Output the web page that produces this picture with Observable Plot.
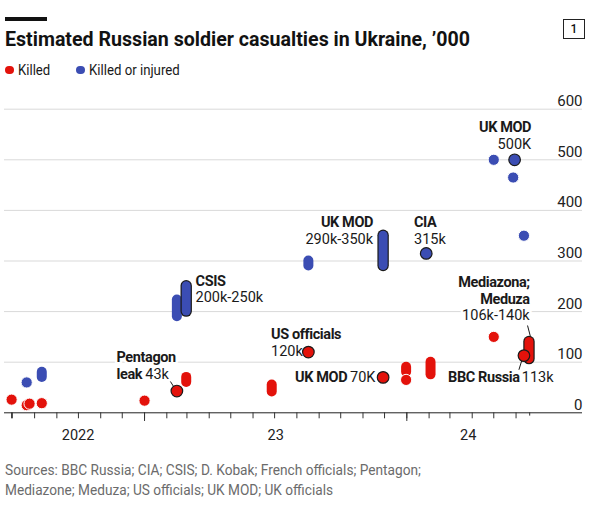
<!DOCTYPE html>
<html>
<head>
<meta charset="utf-8">
<script src="https://cdn.jsdelivr.net/npm/d3@7"></script>
<script src="https://cdn.jsdelivr.net/npm/@observablehq/plot@0.6"></script>
<style>
  html, body { margin: 0; padding: 0; background: #fff; }
  body { width: 608px; height: 507px; position: relative; overflow: hidden; font-family: Roboto, "Noto Sans", sans-serif; color: #121212; }
  .abs { position: absolute; white-space: nowrap; }
  .fit { display: inline-block; transform-origin: 0 0; }
  #bar { left: 4.7px; top: 16.7px; width: 42px; height: 4px; background: #121212; }
  #title { left: 4.7px; top: 28.9px; font-size: 20px; line-height: 20px; font-weight: 700; }
  .leg { top: 63.1px; font-size: 15px; line-height: 15px; color: #1a1a1a; }
  .ldot { position: absolute; width: 8.6px; height: 8.6px; border-radius: 50%; top: 65.7px; }
  .foot { left: 4.7px; font-size: 15px; line-height: 15px; color: #6b6b6b; }
  #box { left: 563px; top: 19px; width: 21.6px; height: 20.3px; box-sizing: border-box; border: 1px solid #222; font-size: 12px; line-height: 18.3px; text-align: center; font-weight: 500; }
  #chart { position: absolute; left: 0; top: 90px; }
  #chart g[font-weight="700"] text { letter-spacing: -0.4px; }
</style>
</head>
<body>
<div id="bar" class="abs"></div>
<div id="title" class="abs fit">Estimated Russian soldier casualties in Ukraine, ’000</div>
<div id="box" class="abs">1</div>
<div class="ldot" style="left:5px;background:#e3120b"></div>
<div id="legK" class="abs leg fit" style="left:17.7px">Killed</div>
<div class="ldot" style="left:76.4px;background:#3b4db3"></div>
<div id="legKI" class="abs leg fit" style="left:89.3px">Killed or injured</div>
<div id="chart"></div>
<div id="foot1" class="abs foot fit" style="top:463.4px">Sources: BBC Russia; CIA; CSIS; D. Kobak; French officials; Pentagon;</div>
<div id="foot2" class="abs foot fit" style="top:483.4px">Mediazone; Meduza; US officials; UK MOD; UK officials</div>
<script>
// ---------------- data ----------------
const seriesNames = ["Killed", "Killed or injured"];

// Killed: single estimates
const killedPointDates  = ["2022-06-30","2022-07-21","2022-07-25","2022-08-11","2023-01-01","2023-02-15","2023-08-17","2023-11-29","2023-12-31","2024-05-01","2024-06-12"];
const killedPointValues = [26, 15, 18, 19, 24, 43, 120, 70, 65, 150, 113];
const killedPointLabelled = [0, 0, 0, 0, 0, 1, 1, 1, 0, 0, 1];
// Killed: ranges
const killedRangeDates = ["2023-02-28","2023-06-27","2023-12-31","2024-02-03","2024-06-19"];
const killedRangeLow   = [60, 41, 80, 75, 106];
const killedRangeHigh  = [70, 55, 90, 100, 140];
const killedRangeLabelled = [0, 0, 0, 0, 1];

// Killed or injured: single estimates
const injuredPointDates  = ["2022-07-21","2024-01-28","2024-05-01","2024-05-28","2024-05-30","2024-06-12"];
const injuredPointValues = [60, 315, 500, 465, 500, 350];
const injuredPointLabelled = [0, 1, 0, 0, 1, 0];
// Killed or injured: ranges
const injuredRangeDates = ["2022-08-11","2023-02-15","2023-02-28","2023-08-17","2023-11-29"];
const injuredRangeLow   = [70, 190, 200, 290, 290];
const injuredRangeHigh  = [80, 223, 250, 300, 350];
const injuredRangeLabelled = [0, 0, 1, 0, 1];

// Axis
const yTicks = [0, 100, 200, 300, 400, 500, 600];
const xDomain = ["2022-06-30", "2024-06-20"];
const yearLabels = ["2022", "23", "24"];
const yearBounds = ["2022-06-30", "2023-01-01", "2024-01-01", "2024-06-20"];

// Annotations (anchor date, anchor value, text, bold, anchor side)
const annDates  = ["2022-11-23","2022-11-23","2023-01-02","2023-03-13","2023-03-13","2023-06-26","2023-06-26","2023-10-10","2023-10-14","2023-11-15","2023-11-15","2024-01-11","2024-01-11","2024-06-22","2024-06-22","2024-06-20","2024-06-20","2024-06-20","2024-06-06","2024-06-09"];
const annValues = [108.7, 75.7, 75.7, 260.1, 227.3, 154.7, 120.6, 69.2, 69.2, 375.5, 342.5, 375.5, 342.5, 564.4, 530.2, 258.1, 224.5, 192.3, 69.2, 69.2];
const annTexts  = ["Pentagon","leak","43k","CSIS","200k-250k","US officials","120k","UK MOD","70K","UK MOD","290k-350k","CIA","315k","UK MOD","500K","Mediazona;","Meduza","106k-140k","BBC Russia","113k"];
const annBold   = [1,1,0,1,0,1,0,1,0,1,0,1,0,1,0,1,1,0,1,0];
const annEnd    = [0,0,0,0,0,0,0,1,0,1,1,0,0,1,1,1,1,1,1,0];

// Leader lines
const leaderFromDates = ["2023-02-06","2024-06-17","2024-06-09"];
const leaderFromValues = [61.9, 172.5, 103.4];
const leaderToDates = ["2023-02-11","2024-06-21","2024-06-05"];
const leaderToValues = [50.6, 150.8, 85];

// ---------------- build ----------------
const RED = "#e3120b", BLUE = "#3b4db3", INK = "#1a1a1a";
const D = s => new Date(s + "T00:00:00Z");
const pts = (dates, vals, lab) => dates.map((d, i) => ({date: D(d), value: vals[i], labelled: !!lab[i]}));
const rngs = (dates, lo, hi, lab) => dates.map((d, i) => ({date: D(d), low: lo[i], high: hi[i], labelled: !!lab[i]}));

const kP = pts(killedPointDates, killedPointValues, killedPointLabelled);
const kR = rngs(killedRangeDates, killedRangeLow, killedRangeHigh, killedRangeLabelled);
const iP = pts(injuredPointDates, injuredPointValues, injuredPointLabelled);
const iR = rngs(injuredRangeDates, injuredRangeLow, injuredRangeHigh, injuredRangeLabelled);

const ann = annTexts.map((t, i) => ({date: D(annDates[i]), value: annValues[i], text: t, bold: !!annBold[i], end: !!annEnd[i]}));
const leaders = leaderFromDates.map((d, i) => ({x1: D(d), y1: leaderFromValues[i], x2: D(leaderToDates[i]), y2: leaderToValues[i]}));

const dom = xDomain.map(D);
const yb = yearBounds.map(D);
const yearMid = yearLabels.map((l, i) => ({label: l, date: new Date((+yb[i] + +yb[i + 1]) / 2)}));
const monthTicks = d3.utcMonth.range(D("2022-07-01"), D("2024-06-02"));
const yearTicks = [D("2023-01-01"), D("2024-01-01")];

function textMarks(filterFn, anchor, weight) {
  return Plot.text(ann.filter(filterFn), {
    x: "date", y: "value", text: "text", textAnchor: anchor, fontWeight: weight,
    fill: INK, stroke: "white", strokeWidth: 5, paintOrder: "stroke", strokeLinejoin: "round",
    lineAnchor: "middle", fontSize: 14.5
  });
}

const ranges = (data, color, lab) => lab
  ? [Plot.ruleX(data, {x: "date", y1: "low", y2: "high", stroke: INK, strokeWidth: 11.4, strokeLinecap: "round"}),
     Plot.ruleX(data, {x: "date", y1: "low", y2: "high", stroke: color, strokeWidth: 9, strokeLinecap: "round"})]
  : [Plot.ruleX(data, {x: "date", y1: "low", y2: "high", stroke: color, strokeWidth: 10, strokeLinecap: "round"})];

const chart = Plot.plot({
  width: 608, height: 360,
  marginLeft: 4, marginRight: 26, marginTop: 18.7, marginBottom: 37.7,
  x: {type: "utc", domain: dom, range: [11.1, 529.2]},
  y: {domain: [0, 600], axis: null},
  style: {fontFamily: "Roboto, 'Noto Sans', sans-serif", fontSize: "14.5px", color: "#222", background: "transparent", overflow: "visible"},
  marks: [
    Plot.ruleY(yTicks.filter(v => v > 0), {stroke: "#d9d9d9", strokeWidth: 1}),
    Plot.ruleY([0], {stroke: "#222", strokeWidth: 1}),
    Plot.axisX(monthTicks, {tickSize: 6, tickFormat: () => "", stroke: "#333", label: null}),
    Plot.axisX(yearTicks, {tickSize: 8.7, tickFormat: () => "", stroke: "#333", label: null}),
    Plot.axisX([dom[0]], {tickSize: 6, tickFormat: () => "", stroke: "#333", label: null}),
    Plot.axisX([dom[1]], {tickSize: 3.3, tickFormat: () => "", stroke: "#333", label: null}),
    Plot.text(yTicks, {y: d => d, text: d => String(d), frameAnchor: "right", textAnchor: "end", lineAnchor: "bottom", dy: -3, fontSize: 15, fill: "#222"}),
    Plot.text(yearMid, {x: "date", text: "label", frameAnchor: "bottom", lineAnchor: "middle", dy: 23, fontSize: 14.5, fill: "#222"}),
    textMarks(a => a.bold && !a.end, "start", 700),
    textMarks(a => a.bold && a.end, "end", 700),
    textMarks(a => !a.bold && !a.end, "start", 400),
    textMarks(a => !a.bold && a.end, "end", 400),
    Plot.link(leaders, {x1: "x1", y1: "y1", x2: "x2", y2: "y2", stroke: INK, strokeWidth: 1}),
    ...ranges(iR.filter(d => !d.labelled), BLUE, false),
    ...ranges(kR.filter(d => !d.labelled), RED, false),
    Plot.dot(iP.filter(d => !d.labelled), {x: "date", y: "value", r: 5.6, fill: BLUE, stroke: "white", strokeWidth: 1}),
    Plot.dot(kP.filter(d => !d.labelled), {x: "date", y: "value", r: 5.6, fill: RED, stroke: "white", strokeWidth: 1}),
    ...ranges(iR.filter(d => d.labelled), BLUE, true),
    ...ranges(kR.filter(d => d.labelled), RED, true),
    Plot.dot(iP.filter(d => d.labelled), {x: "date", y: "value", r: 5.8, fill: BLUE, stroke: INK, strokeWidth: 1.2}),
    Plot.dot(kP.filter(d => d.labelled), {x: "date", y: "value", r: 5.8, fill: RED, stroke: INK, strokeWidth: 1.2})
  ]
});
document.getElementById("chart").appendChild(chart);

// fit heading / legend / footer text widths to the reference layout
const fitWidths = {title: 465, legK: 32.3, legKI: 90.7, foot1: 416, foot2: 328};
function fitAll() {
  for (const [id, w] of Object.entries(fitWidths)) {
    const el = document.getElementById(id);
    el.style.transform = "none";
    const nat = el.getBoundingClientRect().width;
    if (nat > 0) el.style.transform = `scaleX(${w / nat})`;
  }
}
fitAll();
if (document.fonts && document.fonts.ready) document.fonts.ready.then(fitAll);
</script>
</body>
</html>
